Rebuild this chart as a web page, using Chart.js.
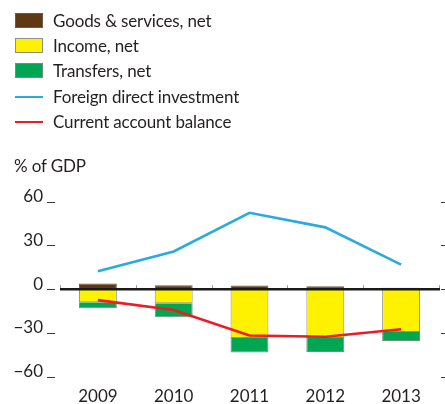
<!DOCTYPE html>
<html>
<head>
<meta charset="utf-8">
<script src="https://cdn.jsdelivr.net/npm/chart.js@4/dist/chart.umd.min.js"></script>
<style>
  html, body { margin: 0; padding: 0; background: #fff; }
  #wrap { position: relative; width: 445px; height: 404px; overflow: hidden; font-family: Lato, "Open Sans", sans-serif; color: #231f20; }
  #chart { position: absolute; left: 0; top: 0; }
  .legend { position: absolute; left: 15px; top: 0; }
  .item { position: absolute; left: 0; height: 20px; white-space: nowrap; font-size: 17px; line-height: 20px; letter-spacing: -0.15px; }
  .sw { position: absolute; left: 0; width: 28px; box-sizing: border-box; }
  .lab { position: absolute; left: 38px; top: 0; }
  #unit { position: absolute; left: 14px; top: 156px; font-size: 17px; line-height: 20px; letter-spacing: -0.15px; }
</style>
</head>
<body>
<div id="wrap">
  <canvas id="chart" width="445" height="404"></canvas>
  <div class="legend" id="legend"></div>
  <div id="unit">% of GDP</div>
</div>
<script>
const categories = ['2009', '2010', '2011', '2012', '2013'];
const goodsServices = [3.9, 2.7, 2.5, 2.0, 0.9];
const incomeNet = [-9.0, -9.7, -33.5, -33.5, -29.4];
const transfersNet = [-4.1, -9.5, -9.9, -9.5, -6.1];
const foreignDirectInvestment = [12.2, 25.8, 52.3, 42.3, 16.8];
const currentAccountBalance = [-7.5, -14.3, -31.7, -32.6, -27.4];
const yTickValues = [-60, -30, 0, 30, 60];
const yTickLabels = ['\u221260', '\u221230', '0', '30', '60'];

const TEXT = '#231f20';
const FONT = 'Lato, "Open Sans", sans-serif';

const seriesStyle = [
  { name: 'Goods & services, net', kind: 'box', color: '#603913', border: '#6b5a48' },
  { name: 'Income, net', kind: 'box', color: '#fff200', border: '#8f8f86' },
  { name: 'Transfers, net', kind: 'box', color: '#00a651', border: '#6f8f78' },
  { name: 'Foreign direct investment', kind: 'line', color: '#29abe2' },
  { name: 'Current account balance', kind: 'line', color: '#ed1c24' }
];

// HTML legend
const legendEl = document.getElementById('legend');
seriesStyle.forEach((s, i) => {
  const row = document.createElement('div');
  row.className = 'item';
  row.style.top = (11 + i * 25.2) + 'px';
  const sw = document.createElement('div');
  sw.className = 'sw';
  if (s.kind === 'box') {
    sw.style.top = '2px';
    sw.style.height = '15px';
    sw.style.background = s.color;
    sw.style.border = '1px solid ' + s.border;
  } else {
    sw.style.top = '9px';
    sw.style.height = '2.5px';
    sw.style.background = s.color;
  }
  const lab = document.createElement('span');
  lab.className = 'lab';
  lab.textContent = s.name;
  row.appendChild(sw);
  row.appendChild(lab);
  legendEl.appendChild(row);
});

// zero line, category ticks and small axis dashes
const axisDecor = {
  id: 'axisDecor',
  afterDatasetsDraw(chart) {
    const ctx = chart.ctx;
    const x = chart.scales.x;
    const y = chart.scales.y;
    const area = chart.chartArea;
    const y0 = y.getPixelForValue(0);
    const step = x.getPixelForValue(1) - x.getPixelForValue(0);
    ctx.save();
    // category boundary ticks
    ctx.strokeStyle = '#9a9a9a';
    ctx.lineWidth = 1;
    for (let i = 0; i <= categories.length; i++) {
      const px = x.getPixelForValue(0) - step / 2 + i * step;
      ctx.beginPath();
      ctx.moveTo(Math.round(px) + 0.5, y0 - 4);
      ctx.lineTo(Math.round(px) + 0.5, y0);
      ctx.stroke();
    }
    // zero line
    ctx.strokeStyle = '#1a1a1a';
    ctx.lineWidth = 2.5;
    ctx.beginPath();
    ctx.moveTo(area.left, y0);
    ctx.lineTo(area.right + 1, y0);
    ctx.stroke();
    // small dashes beside the value labels, and on the right side
    ctx.strokeStyle = '#3a3a3a';
    ctx.lineWidth = 1;
    yTickValues.forEach(v => {
      const py = Math.round(y.getPixelForValue(v)) + 0.5;
      ctx.beginPath();
      ctx.moveTo(area.left - 13, py);
      ctx.lineTo(area.left - 5, py);
      ctx.stroke();
      ctx.beginPath();
      ctx.moveTo(area.right + 2, py);
      ctx.lineTo(area.right + 6, py);
      ctx.stroke();
    });
    ctx.restore();
  }
};

new Chart(document.getElementById('chart'), {
  data: {
    labels: categories,
    datasets: [
      {
        type: 'line', label: seriesStyle[3].name, data: foreignDirectInvestment, stack: 'fdi', order: 0,
        borderColor: seriesStyle[3].color, borderWidth: 2.6, pointRadius: 0, tension: 0, fill: false
      },
      {
        type: 'line', label: seriesStyle[4].name, data: currentAccountBalance, stack: 'cab', order: 0,
        borderColor: seriesStyle[4].color, borderWidth: 2.6, pointRadius: 0, tension: 0, fill: false
      },
      {
        type: 'bar', label: seriesStyle[0].name, data: goodsServices, stack: 'bars', order: 1,
        backgroundColor: seriesStyle[0].color, borderColor: seriesStyle[0].border, borderWidth: 1,
        barPercentage: 0.5, categoryPercentage: 1
      },
      {
        type: 'bar', label: seriesStyle[1].name, data: incomeNet, stack: 'bars', order: 1,
        backgroundColor: seriesStyle[1].color, borderColor: seriesStyle[1].border, borderWidth: 1,
        barPercentage: 0.5, categoryPercentage: 1
      },
      {
        type: 'bar', label: seriesStyle[2].name, data: transfersNet, stack: 'bars', order: 1,
        backgroundColor: seriesStyle[2].color, borderColor: seriesStyle[2].border, borderWidth: 1,
        barPercentage: 0.5, categoryPercentage: 1
      }
    ]
  },
  options: {
    responsive: false,
    animation: false,
    events: [],
    layout: { padding: { top: 201.5, right: 6, left: 0, bottom: 0 } },
    plugins: { legend: { display: false }, tooltip: { enabled: false } },
    scales: {
      x: {
        stacked: true,
        offset: true,
        grid: { display: false },
        border: { display: false },
        ticks: { color: TEXT, font: { family: FONT, size: 17 }, padding: 2, maxRotation: 0 },
        afterFit(scale) { scale.height = 26.3; }
      },
      y: {
        stacked: true,
        min: -60,
        max: 60,
        grid: { display: false, drawTicks: false },
        border: { display: false },
        afterBuildTicks(scale) { scale.ticks = yTickValues.map(v => ({ value: v })); },
        afterFit(scale) { scale.width = 60; },
        ticks: {
          color: TEXT,
          font: { family: FONT, size: 17 },
          padding: 17,
          labelOffset: -5,
          callback: (v) => yTickLabels[yTickValues.indexOf(v)]
        }
      }
    }
  },
  plugins: [axisDecor]
});
</script>
</body>
</html>
